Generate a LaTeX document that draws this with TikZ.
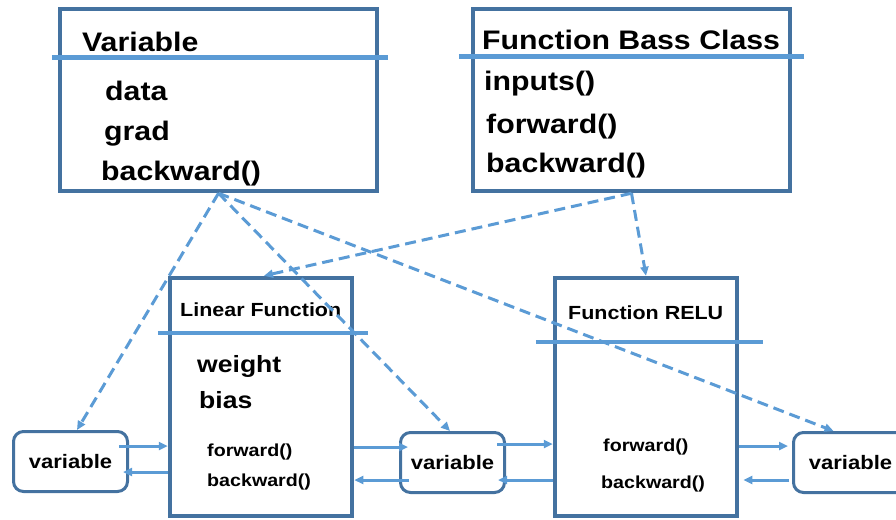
\documentclass[tikz,border=0pt]{standalone}
\usepackage{fontspec}
\setmainfont{Liberation Sans}[FakeStretch=1.13]
\usetikzlibrary{arrows.meta,calc}
\definecolor{edgeblue}{RGB}{68,114,160}
\definecolor{lineblue}{RGB}{91,155,213}
\tikzset{
  classbox/.style={draw=edgeblue, line width=4.5pt, minimum width=317pt, minimum height=182pt, inner sep=0pt},
  funcbox/.style={draw=edgeblue, line width=4.5pt, minimum width=182pt, minimum height=238pt, inner sep=0pt},
  varbox/.style={draw=edgeblue, line width=3pt, rounded corners=10pt, minimum height=60pt, inner sep=0pt,
    font=\bfseries\fontsize{19.5}{22}\selectfont},
  divider/.style={draw=lineblue, line width=4.5pt},
  txt/.style={anchor=base west, inner sep=0pt, font=\bfseries\fontsize{26.8}{30}\selectfont},
  midtxt/.style={txt, font=\bfseries\fontsize{23.5}{26}\selectfont},
  headtxt/.style={txt, font=\bfseries\fontsize{19}{22}\selectfont},
  smalltxt/.style={txt, font=\bfseries\fontsize{17.4}{20}\selectfont},
  flow/.style={draw=lineblue, line width=3pt, -{Triangle[length=9pt,width=8pt]}},
  dashlink/.style={draw=lineblue, line width=3pt, dash pattern=on 11pt off 6pt, -{Triangle[length=9pt,width=8pt]}},
}
\begin{document}
\begin{tikzpicture}[x=1pt,y=-1pt]
\useasboundingbox (0,0) rectangle (896,519);
\clip (0,0) rectangle (896,519);

% class boxes
\node[classbox] (var) at (218.5,100) {};
\node[classbox] (fbc) at (631.5,100) {};
% function boxes
\node[funcbox] (lin) at (261,397) {};
\node[funcbox] (relu) at (646,397) {};
% variable instances
\node[varbox, minimum width=114pt] (v1) at (70.5,461.5) {variable};
\node[varbox, minimum width=104pt] (v2) at (452.5,462.5) {variable};
\node[varbox, minimum width=114pt] (v3) at (850.5,462.5) {variable};

% header dividers
\draw[divider] ([xshift=-6pt,yshift=-51pt]var.north west) -- ([xshift=9pt,yshift=-51pt]var.north east);
\draw[divider] ([xshift=-12pt,yshift=-50pt]fbc.north west) -- ([xshift=12pt,yshift=-50pt]fbc.north east);
\draw[divider] ([xshift=-10pt,yshift=-57pt]lin.north west) -- ([xshift=14pt,yshift=-57pt]lin.north east);
\draw[divider] ([xshift=-17pt,yshift=-66pt]relu.north west) -- ([xshift=24pt,yshift=-66pt]relu.north east);

% Variable class
\node[txt] (varT) at (82,52) {Variable};
\node[txt] (varA) at (105,100) {data};
\node[txt] (varB) at (104,140) {grad};
\node[txt] (varC) at (101,180) {backward()};

% Function base class
\node[txt] (fbcT) at (482,50) {Function Bass Class};
\node[txt] (fbcA) at (484,90) {inputs()};
\node[txt] (fbcB) at (486,133) {forward()};
\node[txt] (fbcC) at (486,172) {backward()};

% Linear function
\node[headtxt] (linT) at (180,316) {Linear Function};
\node[midtxt] (linA) at (197,372) {weight};
\node[midtxt] (linB) at (199,408) {bias};
\node[smalltxt] (linC) at (207,456) {forward()};
\node[smalltxt] (linD) at (207,486) {backward()};

% ReLU function
\node[headtxt] (reluT) at (568,319) {Function RELU};
\node[smalltxt] (reluA) at (603,451) {forward()};
\node[smalltxt] (reluB) at (601,488) {backward()};

% forward / backward flow
\draw[flow] ([xshift=-10pt,yshift=15.5pt]v1.east) coordinate (a1) -- (a1 -| lin.west);
\coordinate (a2) at ([xshift=-6pt,yshift=-10.5pt]v1.east);
\draw[flow] (a2 -| lin.west) -- (a2);
\coordinate (a3) at ([xshift=9pt,yshift=15.5pt]v2.west);
\draw[flow] (a3 -| lin.east) -- (a3);
\draw[flow] ([xshift=10pt,yshift=-17.5pt]v2.west) coordinate (a4) -- (a4 -| lin.east);
\draw[flow] ([xshift=-9pt,yshift=18.5pt]v2.east) coordinate (a5) -- (a5 -| relu.west);
\coordinate (a6) at ([xshift=-8pt,yshift=-17.5pt]v2.east);
\draw[flow] (a6 -| relu.west) -- (a6);
\coordinate (a7) at ([xshift=-4pt,yshift=16.5pt]v3.west);
\draw[flow] (a7 -| relu.east) -- (a7);
\draw[flow] ([xshift=-3pt,yshift=-17.5pt]v3.west) coordinate (a8) -- ($(a8 -| relu.east)+(4,0)$);

% class relations
\draw[dashlink] (var.south) -- ([xshift=6.5pt]v1.north);
\draw[dashlink] (var.south) -- ([xshift=-2.5pt]v2.north);
\draw[dashlink] (var.south) -- ([xshift=-17pt]v3.north);
\draw[dashlink] (fbc.south) -- ([xshift=3pt]lin.north);
\draw[dashlink] (fbc.south) -- (relu.north);
\end{tikzpicture}
\end{document}
